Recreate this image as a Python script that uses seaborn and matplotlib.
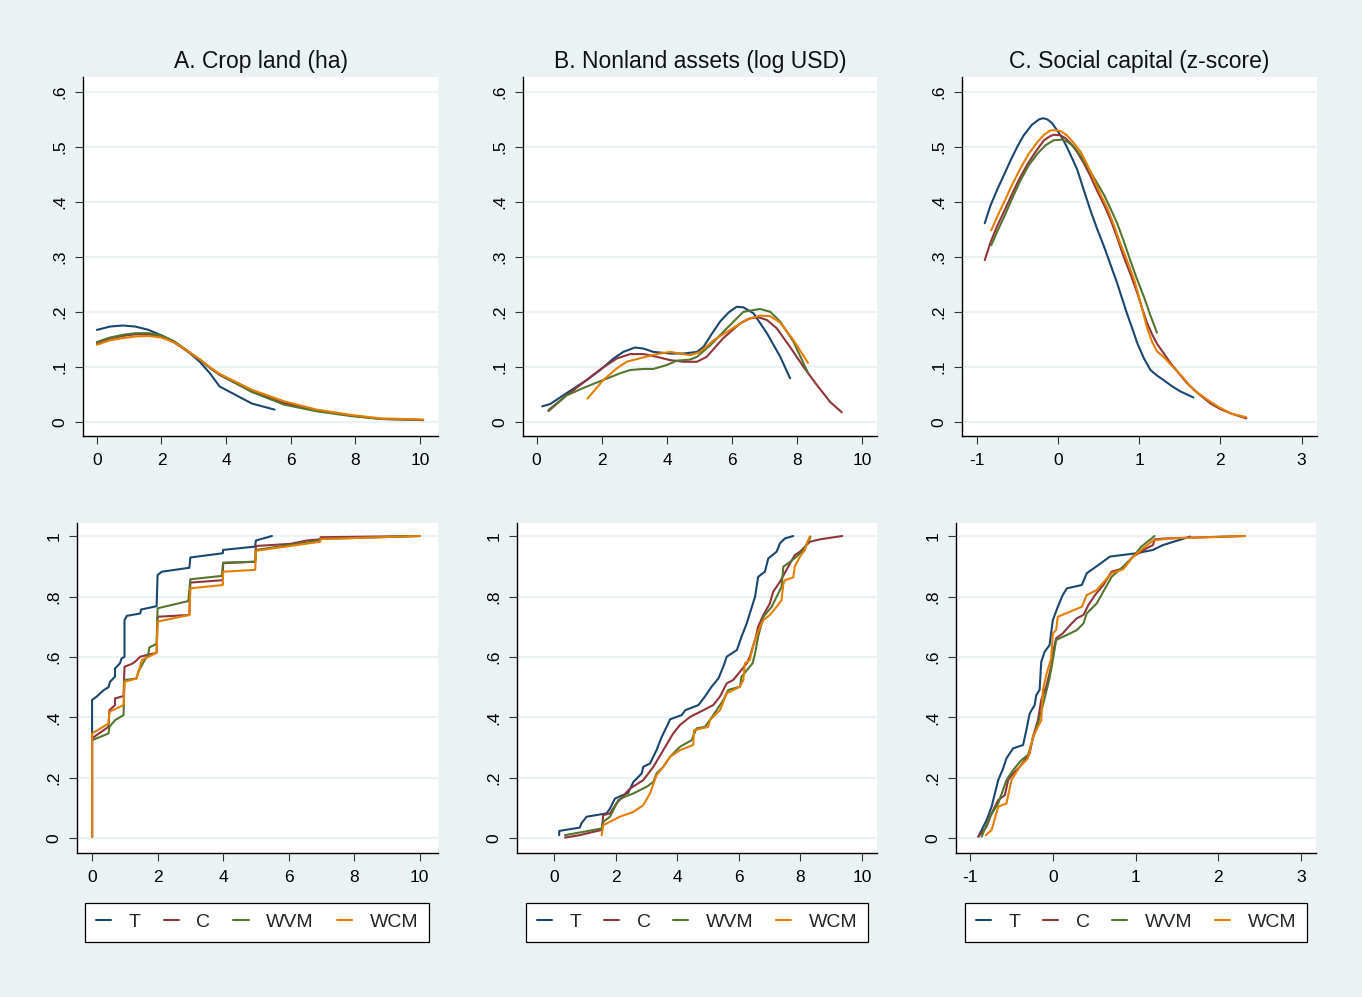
import numpy as np
import pandas as pd
import matplotlib
matplotlib.use("Agg")
import matplotlib.pyplot as plt
import seaborn as sns
from matplotlib.lines import Line2D

sns.set_style("white")
plt.rcParams['font.family'] = ['Liberation Sans', 'DejaVu Sans']

groups = ["T", "C", "WVM", "WCM"]
colors = ["#1a476f", "#90353b", "#55752f", "#e37e00"]
titles = ["A. Crop land (ha)", "B. Nonland assets (log USD)", "C. Social capital (z-score)"]
top_yticks = [0, 0.1, 0.2, 0.3, 0.4, 0.5, 0.6]
top_ylabels = ["0", ".1", ".2", ".3", ".4", ".5", ".6"]
bot_yticks = [0, 0.2, 0.4, 0.6, 0.8, 1.0]
bot_ylabels = ["0", ".2", ".4", ".6", ".8", "1"]
xticks_ab = [0, 2, 4, 6, 8, 10]
xticks_c = [-1, 0, 1, 2, 3]

# ---------- A. Crop land: kernel densities ----------
crop_den_T_x = [0, 0.4, 0.8, 1.2, 1.6, 2.0, 2.4, 2.8, 3.2, 3.5, 3.8, 4.8, 5.5]
crop_den_T_y = [0.167, 0.173, 0.175, 0.173, 0.167, 0.157, 0.145, 0.129, 0.108, 0.088, 0.064, 0.033, 0.022]
crop_den_x = [0, 0.4, 0.8, 1.2, 1.6, 2.0, 2.4, 2.8, 3.2, 3.5, 3.8, 4.8, 5.8, 6.8, 7.9, 8.8, 10.1]
crop_den_C_y = [0.143, 0.151, 0.156, 0.159, 0.159, 0.155, 0.144, 0.128, 0.112, 0.098, 0.085, 0.055, 0.034, 0.021, 0.011, 0.005, 0.003]
crop_den_WVM_y = [0.145, 0.153, 0.158, 0.161, 0.161, 0.157, 0.146, 0.129, 0.112, 0.098, 0.086, 0.054, 0.031, 0.019, 0.010, 0.005, 0.003]
crop_den_WCM_y = [0.140, 0.148, 0.152, 0.155, 0.156, 0.153, 0.144, 0.129, 0.113, 0.099, 0.087, 0.058, 0.037, 0.022, 0.012, 0.006, 0.004]

# ---------- B. Nonland assets: kernel densities ----------
asset_den_T_x = [0.17, 0.41, 0.92, 1.54, 1.95, 2.36, 2.66, 3.02, 3.28, 3.58, 4.1, 4.5, 4.92, 5.12, 5.38, 5.63, 5.9, 6.14, 6.35, 6.66, 7.07, 7.48, 7.78]
asset_den_T_y = [0.028, 0.032, 0.052, 0.076, 0.094, 0.115, 0.127, 0.135, 0.133, 0.127, 0.124, 0.124, 0.127, 0.136, 0.160, 0.182, 0.199, 0.209, 0.208, 0.197, 0.161, 0.118, 0.079]
asset_den_C_x = [0.36, 0.92, 1.54, 1.95, 2.46, 2.87, 3.28, 3.69, 4.1, 4.51, 4.92, 5.22, 5.73, 6.25, 6.55, 6.81, 7.07, 7.37, 7.78, 8.19, 8.6, 9.01, 9.37]
asset_den_C_y = [0.021, 0.048, 0.076, 0.095, 0.115, 0.123, 0.123, 0.118, 0.112, 0.109, 0.109, 0.118, 0.152, 0.179, 0.188, 0.190, 0.185, 0.170, 0.136, 0.100, 0.067, 0.036, 0.017]
asset_den_WVM_x = [0.36, 0.92, 1.54, 2.05, 2.56, 2.87, 3.28, 3.58, 3.99, 4.3, 4.71, 4.92, 5.33, 5.84, 6.35, 6.86, 7.17, 7.48, 7.89, 8.33]
asset_den_WVM_y = [0.019, 0.048, 0.064, 0.076, 0.088, 0.094, 0.096, 0.096, 0.103, 0.111, 0.113, 0.118, 0.139, 0.170, 0.200, 0.205, 0.200, 0.182, 0.145, 0.089]
asset_den_WCM_x = [1.56, 2.05, 2.46, 2.76, 3.28, 3.69, 4.1, 4.4, 4.71, 5.02, 5.43, 5.94, 6.45, 6.86, 7.17, 7.48, 7.89, 8.33]
asset_den_WCM_y = [0.042, 0.076, 0.097, 0.109, 0.117, 0.123, 0.127, 0.124, 0.121, 0.127, 0.148, 0.167, 0.186, 0.193, 0.192, 0.180, 0.148, 0.107]

# ---------- C. Social capital: kernel densities ----------
soc_den_T_x = [-0.90, -0.83, -0.75, -0.66, -0.58, -0.50, -0.42, -0.32, -0.23, -0.18, -0.13, -0.07, -0.01, 0.05, 0.11, 0.17, 0.24, 0.32, 0.40, 0.48, 0.57, 0.65, 0.73, 0.85, 0.92, 0.98, 1.06, 1.14, 1.22, 1.30, 1.40, 1.51, 1.67]
soc_den_T_y = [0.361, 0.393, 0.421, 0.450, 0.476, 0.500, 0.521, 0.540, 0.550, 0.552, 0.550, 0.543, 0.530, 0.517, 0.500, 0.481, 0.458, 0.421, 0.385, 0.352, 0.318, 0.285, 0.252, 0.197, 0.168, 0.142, 0.115, 0.094, 0.084, 0.076, 0.065, 0.055, 0.044]
soc_den_C_x = [-0.90, -0.83, -0.75, -0.66, -0.58, -0.48, -0.38, -0.27, -0.17, -0.10, -0.05, 0.03, 0.09, 0.16, 0.24, 0.32, 0.40, 0.48, 0.57, 0.65, 0.73, 0.81, 0.90, 0.98, 1.04, 1.10, 1.16, 1.22, 1.30, 1.39, 1.49, 1.59, 1.73, 1.88, 2.00, 2.13, 2.32]
soc_den_C_y = [0.294, 0.326, 0.355, 0.383, 0.409, 0.440, 0.467, 0.492, 0.512, 0.519, 0.522, 0.521, 0.516, 0.506, 0.490, 0.470, 0.447, 0.421, 0.394, 0.367, 0.335, 0.300, 0.266, 0.233, 0.205, 0.179, 0.159, 0.142, 0.125, 0.106, 0.088, 0.070, 0.051, 0.033, 0.023, 0.015, 0.006]
soc_den_WVM_x = [-0.82, -0.74, -0.66, -0.56, -0.46, -0.36, -0.25, -0.15, -0.05, 0.05, 0.12, 0.20, 0.28, 0.36, 0.46, 0.57, 0.65, 0.73, 0.81, 0.89, 0.97, 1.06, 1.14, 1.22]
soc_den_WVM_y = [0.321, 0.348, 0.373, 0.407, 0.439, 0.466, 0.488, 0.503, 0.512, 0.513, 0.509, 0.500, 0.484, 0.464, 0.440, 0.412, 0.387, 0.361, 0.329, 0.294, 0.261, 0.227, 0.193, 0.162]
soc_den_WCM_x = [-0.82, -0.74, -0.66, -0.56, -0.46, -0.36, -0.25, -0.17, -0.09, -0.01, 0.04, 0.11, 0.19, 0.28, 0.36, 0.44, 0.52, 0.61, 0.69, 0.77, 0.86, 0.94, 1.02, 1.10, 1.16, 1.22, 1.30, 1.39, 1.53, 1.67, 1.88, 2.00, 2.13, 2.32]
soc_den_WCM_y = [0.348, 0.375, 0.400, 0.432, 0.461, 0.487, 0.509, 0.522, 0.530, 0.530, 0.528, 0.521, 0.508, 0.491, 0.468, 0.442, 0.415, 0.388, 0.357, 0.324, 0.290, 0.258, 0.215, 0.170, 0.145, 0.128, 0.118, 0.104, 0.082, 0.058, 0.036, 0.025, 0.015, 0.008]

# ---------- A. Crop land: cumulative distributions ----------
crop_cdf_T_x = [0, 0, 0.14, 0.35, 0.5, 0.55, 0.7, 0.7, 0.85, 0.9, 0.99, 0.99, 1.06, 1.47, 1.5, 1.97, 2.0, 2.13, 2.97, 3.0, 3.99, 4.0, 4.98, 5.0, 5.49]
crop_cdf_T_y = [0.006, 0.458, 0.469, 0.490, 0.500, 0.518, 0.535, 0.562, 0.579, 0.595, 0.601, 0.722, 0.736, 0.744, 0.757, 0.768, 0.871, 0.882, 0.895, 0.929, 0.943, 0.954, 0.965, 0.985, 1.0]
crop_cdf_C_x = [0, 0, 0.14, 0.5, 0.53, 0.7, 0.7, 0.96, 0.99, 1.21, 1.31, 1.47, 1.97, 2.0, 2.97, 3.0, 3.99, 4.0, 4.98, 5.0, 6.05, 6.55, 6.96, 6.98, 10.0]
crop_cdf_C_y = [0.006, 0.331, 0.342, 0.369, 0.424, 0.441, 0.463, 0.471, 0.568, 0.577, 0.584, 0.601, 0.614, 0.733, 0.739, 0.846, 0.854, 0.910, 0.915, 0.967, 0.974, 0.985, 0.989, 0.996, 1.0]
crop_cdf_WVM_x = [0, 0, 0.5, 0.53, 0.7, 0.96, 0.99, 1.36, 1.41, 1.72, 1.75, 1.97, 2.0, 2.94, 3.0, 3.96, 4.0, 4.98, 5.0, 6.96, 6.98, 10.0]
crop_cdf_WVM_y = [0.006, 0.325, 0.347, 0.369, 0.391, 0.408, 0.524, 0.529, 0.551, 0.612, 0.632, 0.643, 0.761, 0.785, 0.857, 0.868, 0.912, 0.915, 0.954, 0.985, 0.990, 1.0]
crop_cdf_WCM_x = [0, 0, 0.5, 0.53, 0.96, 0.99, 1.36, 1.52, 1.97, 2.0, 2.97, 3.0, 3.99, 4.0, 4.98, 5.0, 6.96, 6.98, 10.0]
crop_cdf_WCM_y = [0.006, 0.347, 0.380, 0.419, 0.441, 0.518, 0.529, 0.590, 0.614, 0.717, 0.739, 0.827, 0.838, 0.882, 0.888, 0.951, 0.981, 0.990, 1.0]

# ---------- B. Nonland assets: cumulative distributions ----------
asset_cdf_T_x = [0.17, 0.17, 0.84, 0.89, 1.06, 1.71, 1.82, 1.98, 2.41, 2.58, 2.85, 2.9, 3.12, 3.33, 3.5, 3.71, 3.77, 4.15, 4.26, 4.69, 4.9, 5.12, 5.34, 5.5, 5.61, 5.94, 6.09, 6.26, 6.36, 6.53, 6.63, 6.85, 6.96, 7.23, 7.34, 7.5, 7.77]
asset_cdf_T_y = [0.011, 0.025, 0.036, 0.050, 0.072, 0.083, 0.099, 0.132, 0.151, 0.187, 0.215, 0.237, 0.248, 0.292, 0.336, 0.380, 0.394, 0.408, 0.424, 0.441, 0.469, 0.502, 0.529, 0.568, 0.601, 0.623, 0.667, 0.711, 0.744, 0.799, 0.865, 0.882, 0.926, 0.948, 0.976, 0.992, 1.0]
asset_cdf_C_x = [0.36, 0.84, 1.28, 1.55, 1.6, 1.82, 2.03, 2.47, 2.9, 3.23, 3.55, 3.87, 4.09, 4.42, 4.85, 5.17, 5.39, 5.61, 5.82, 6.04, 6.26, 6.36, 6.53, 6.63, 6.8, 7.01, 7.12, 7.34, 7.55, 7.82, 7.99, 8.31, 8.64, 9.36]
asset_cdf_C_y = [0.003, 0.011, 0.022, 0.028, 0.077, 0.083, 0.116, 0.165, 0.193, 0.237, 0.292, 0.347, 0.375, 0.402, 0.424, 0.441, 0.469, 0.513, 0.524, 0.551, 0.579, 0.601, 0.656, 0.700, 0.739, 0.777, 0.816, 0.849, 0.888, 0.937, 0.948, 0.981, 0.989, 1.0]
asset_cdf_WVM_x = [0.36, 1.55, 1.6, 1.82, 2.09, 2.3, 2.58, 3.01, 3.23, 3.33, 3.55, 3.77, 3.98, 4.09, 4.47, 4.63, 4.9, 5.06, 5.28, 5.5, 5.66, 6.04, 6.09, 6.36, 6.45, 6.53, 6.63, 6.8, 7.07, 7.23, 7.39, 7.45, 7.61, 7.88, 8.1, 8.29, 8.33]
asset_cdf_WVM_y = [0.011, 0.033, 0.055, 0.072, 0.127, 0.138, 0.149, 0.171, 0.187, 0.215, 0.237, 0.270, 0.292, 0.303, 0.325, 0.364, 0.369, 0.391, 0.424, 0.458, 0.491, 0.502, 0.535, 0.568, 0.579, 0.612, 0.667, 0.733, 0.766, 0.799, 0.832, 0.899, 0.910, 0.932, 0.954, 0.987, 0.998]
asset_cdf_WCM_x = [1.55, 1.6, 2.14, 2.58, 2.9, 3.12, 3.33, 3.55, 3.77, 4.09, 4.52, 4.55, 5.01, 5.06, 5.39, 5.61, 6.04, 6.15, 6.2, 6.36, 6.47, 6.63, 6.8, 7.01, 7.23, 7.39, 7.45, 7.5, 7.77, 7.82, 7.99, 8.15, 8.21, 8.31]
asset_cdf_WCM_y = [0.011, 0.044, 0.072, 0.088, 0.110, 0.149, 0.209, 0.237, 0.270, 0.292, 0.309, 0.358, 0.369, 0.391, 0.424, 0.480, 0.502, 0.524, 0.579, 0.590, 0.639, 0.684, 0.722, 0.739, 0.766, 0.788, 0.843, 0.854, 0.863, 0.899, 0.932, 0.954, 0.976, 0.998]

# ---------- C. Social capital: cumulative distributions ----------
soc_cdf_T_x = [-0.9, -0.8, -0.74, -0.7, -0.66, -0.6, -0.56, -0.48, -0.36, -0.32, -0.28, -0.22, -0.2, -0.16, -0.14, -0.1, -0.04, 0.0, 0.06, 0.12, 0.17, 0.35, 0.41, 0.55, 0.69, 1.01, 1.21, 1.33, 1.66]
soc_cdf_T_y = [0.006, 0.061, 0.105, 0.149, 0.193, 0.232, 0.265, 0.298, 0.309, 0.358, 0.413, 0.441, 0.474, 0.491, 0.584, 0.617, 0.639, 0.722, 0.766, 0.805, 0.827, 0.838, 0.877, 0.904, 0.932, 0.943, 0.954, 0.970, 0.998]
soc_cdf_C_x = [-0.9, -0.8, -0.74, -0.66, -0.58, -0.54, -0.48, -0.4, -0.34, -0.28, -0.24, -0.18, -0.14, -0.08, -0.02, 0.0, 0.04, 0.12, 0.21, 0.29, 0.37, 0.43, 0.51, 0.61, 0.71, 0.85, 0.97, 1.13, 1.21, 1.23, 1.37, 2.32]
soc_cdf_C_y = [0.006, 0.039, 0.083, 0.127, 0.143, 0.193, 0.215, 0.237, 0.259, 0.281, 0.336, 0.391, 0.458, 0.502, 0.568, 0.612, 0.662, 0.678, 0.706, 0.728, 0.739, 0.772, 0.805, 0.838, 0.882, 0.893, 0.932, 0.959, 0.970, 0.989, 0.992, 1.0]
soc_cdf_WVM_x = [-0.86, -0.76, -0.66, -0.56, -0.48, -0.38, -0.3, -0.24, -0.18, -0.12, -0.04, 0.0, 0.04, 0.17, 0.29, 0.37, 0.41, 0.53, 0.61, 0.71, 0.85, 0.97, 1.07, 1.23]
soc_cdf_WVM_y = [0.006, 0.072, 0.116, 0.193, 0.226, 0.259, 0.276, 0.331, 0.380, 0.441, 0.529, 0.590, 0.656, 0.673, 0.689, 0.711, 0.744, 0.777, 0.816, 0.865, 0.899, 0.932, 0.965, 1.0]
soc_cdf_WCM_x = [-0.81, -0.74, -0.66, -0.56, -0.5, -0.4, -0.3, -0.24, -0.14, -0.12, -0.08, -0.02, 0.0, 0.04, 0.06, 0.35, 0.41, 0.53, 0.71, 0.85, 0.97, 1.09, 1.21, 1.41, 2.32]
soc_cdf_WCM_y = [0.011, 0.028, 0.105, 0.116, 0.193, 0.237, 0.265, 0.336, 0.391, 0.491, 0.540, 0.595, 0.678, 0.689, 0.733, 0.766, 0.805, 0.821, 0.877, 0.890, 0.932, 0.959, 0.985, 0.992, 1.0]


def long_frame(series):
    parts = []
    for g, (x, y) in zip(groups, series):
        parts.append(pd.DataFrame({"x": x, "y": y, "group": g}))
    return pd.concat(parts, ignore_index=True)


panels = [
    ([(crop_den_T_x, crop_den_T_y), (crop_den_x, crop_den_C_y), (crop_den_x, crop_den_WVM_y), (crop_den_x, crop_den_WCM_y)],
     (83, 77, 438, 436), (-0.43, 10.56), (-0.026, 0.627), xticks_ab, top_yticks, top_ylabels),
    ([(asset_den_T_x, asset_den_T_y), (asset_den_C_x, asset_den_C_y), (asset_den_WVM_x, asset_den_WVM_y), (asset_den_WCM_x, asset_den_WCM_y)],
     (523, 77, 877, 436), (-0.42, 10.45), (-0.026, 0.627), xticks_ab, top_yticks, top_ylabels),
    ([(soc_den_T_x, soc_den_T_y), (soc_den_C_x, soc_den_C_y), (soc_den_WVM_x, soc_den_WVM_y), (soc_den_WCM_x, soc_den_WCM_y)],
     (962, 77, 1317, 436), (-1.18, 3.19), (-0.026, 0.627), xticks_c, top_yticks, top_ylabels),
    ([(crop_cdf_T_x, crop_cdf_T_y), (crop_cdf_C_x, crop_cdf_C_y), (crop_cdf_WVM_x, crop_cdf_WVM_y), (crop_cdf_WCM_x, crop_cdf_WCM_y)],
     (77, 523, 438, 853), (-0.46, 10.56), (-0.048, 1.043), xticks_ab, bot_yticks, bot_ylabels),
    ([(asset_cdf_T_x, asset_cdf_T_y), (asset_cdf_C_x, asset_cdf_C_y), (asset_cdf_WVM_x, asset_cdf_WVM_y), (asset_cdf_WCM_x, asset_cdf_WCM_y)],
     (517, 523, 877, 853), (-1.2, 10.49), (-0.048, 1.043), xticks_ab, bot_yticks, bot_ylabels),
    ([(soc_cdf_T_x, soc_cdf_T_y), (soc_cdf_C_x, soc_cdf_C_y), (soc_cdf_WVM_x, soc_cdf_WVM_y), (soc_cdf_WCM_x, soc_cdf_WCM_y)],
     (956, 523, 1316, 853), (-1.17, 3.18), (-0.048, 1.043), xticks_c, bot_yticks, bot_ylabels),
]

W, H = 1362, 997
BG = "#eaf2f3"
fig = plt.figure(figsize=(W / 100, H / 100), dpi=100, facecolor=BG)

legend_boxes = [(85, 901, 429, 943), (526, 901, 868, 943), (965, 901, 1307, 943)]

for i, (series, box, xlim, ylim, xt, yt, yl) in enumerate(panels):
    l, t, r, b = box
    ax = fig.add_axes([l / W, 1 - b / H, (r - l) / W, (b - t) / H])
    ax.set_facecolor("white")
    df = long_frame(series)
    sns.lineplot(data=df, x="x", y="y", hue="group", hue_order=groups, palette=colors,
                 estimator=None, sort=False, legend=False, ax=ax, linewidth=1.5)
    ax.set_xlim(*xlim)
    ax.set_ylim(*ylim)
    ax.set_xticks(xt)
    ax.set_xticklabels([str(v) for v in xt])
    ax.set_yticks(yt)
    ax.set_yticklabels(yl, rotation=90, va="center")
    ax.set_xlabel("")
    ax.set_ylabel("")
    ax.yaxis.grid(True, color=BG, linewidth=1.6)
    ax.xaxis.grid(False)
    ax.set_axisbelow(True)
    for s in ["top", "right"]:
        ax.spines[s].set_visible(False)
    for s in ["left", "bottom"]:
        ax.spines[s].set_color("black")
        ax.spines[s].set_linewidth(1.0)
    ax.tick_params(axis="both", direction="out", length=6, width=0.8, colors="#333333",
                   labelcolor="black", labelsize=12.5, left=True, bottom=True)
    ax.tick_params(axis="x", pad=6)
    ax.tick_params(axis="y", pad=5)
    if i < 3:
        ax.set_title(titles[i], fontsize=16.5, pad=6.5, color="#111111")
    else:
        l0, t0, r0, b0 = legend_boxes[i - 3]
        handles = [Line2D([0], [0], color=c, lw=1.5) for c in colors]
        leg = ax.legend(handles, groups, loc="center", ncol=4, mode="expand",
                        bbox_to_anchor=(l0 / W, 1 - b0 / H, (r0 - l0) / W, (b0 - t0) / H),
                        bbox_transform=fig.transFigure, borderaxespad=0, frameon=True,
                        fancybox=False, edgecolor="black", framealpha=1, facecolor="white",
                        fontsize=14, handlelength=0.78, handletextpad=0.9, borderpad=0.55,
                        columnspacing=1.3)
        leg.get_frame().set_linewidth(0.9)

fig.savefig("out.png", dpi=100, facecolor=BG)
